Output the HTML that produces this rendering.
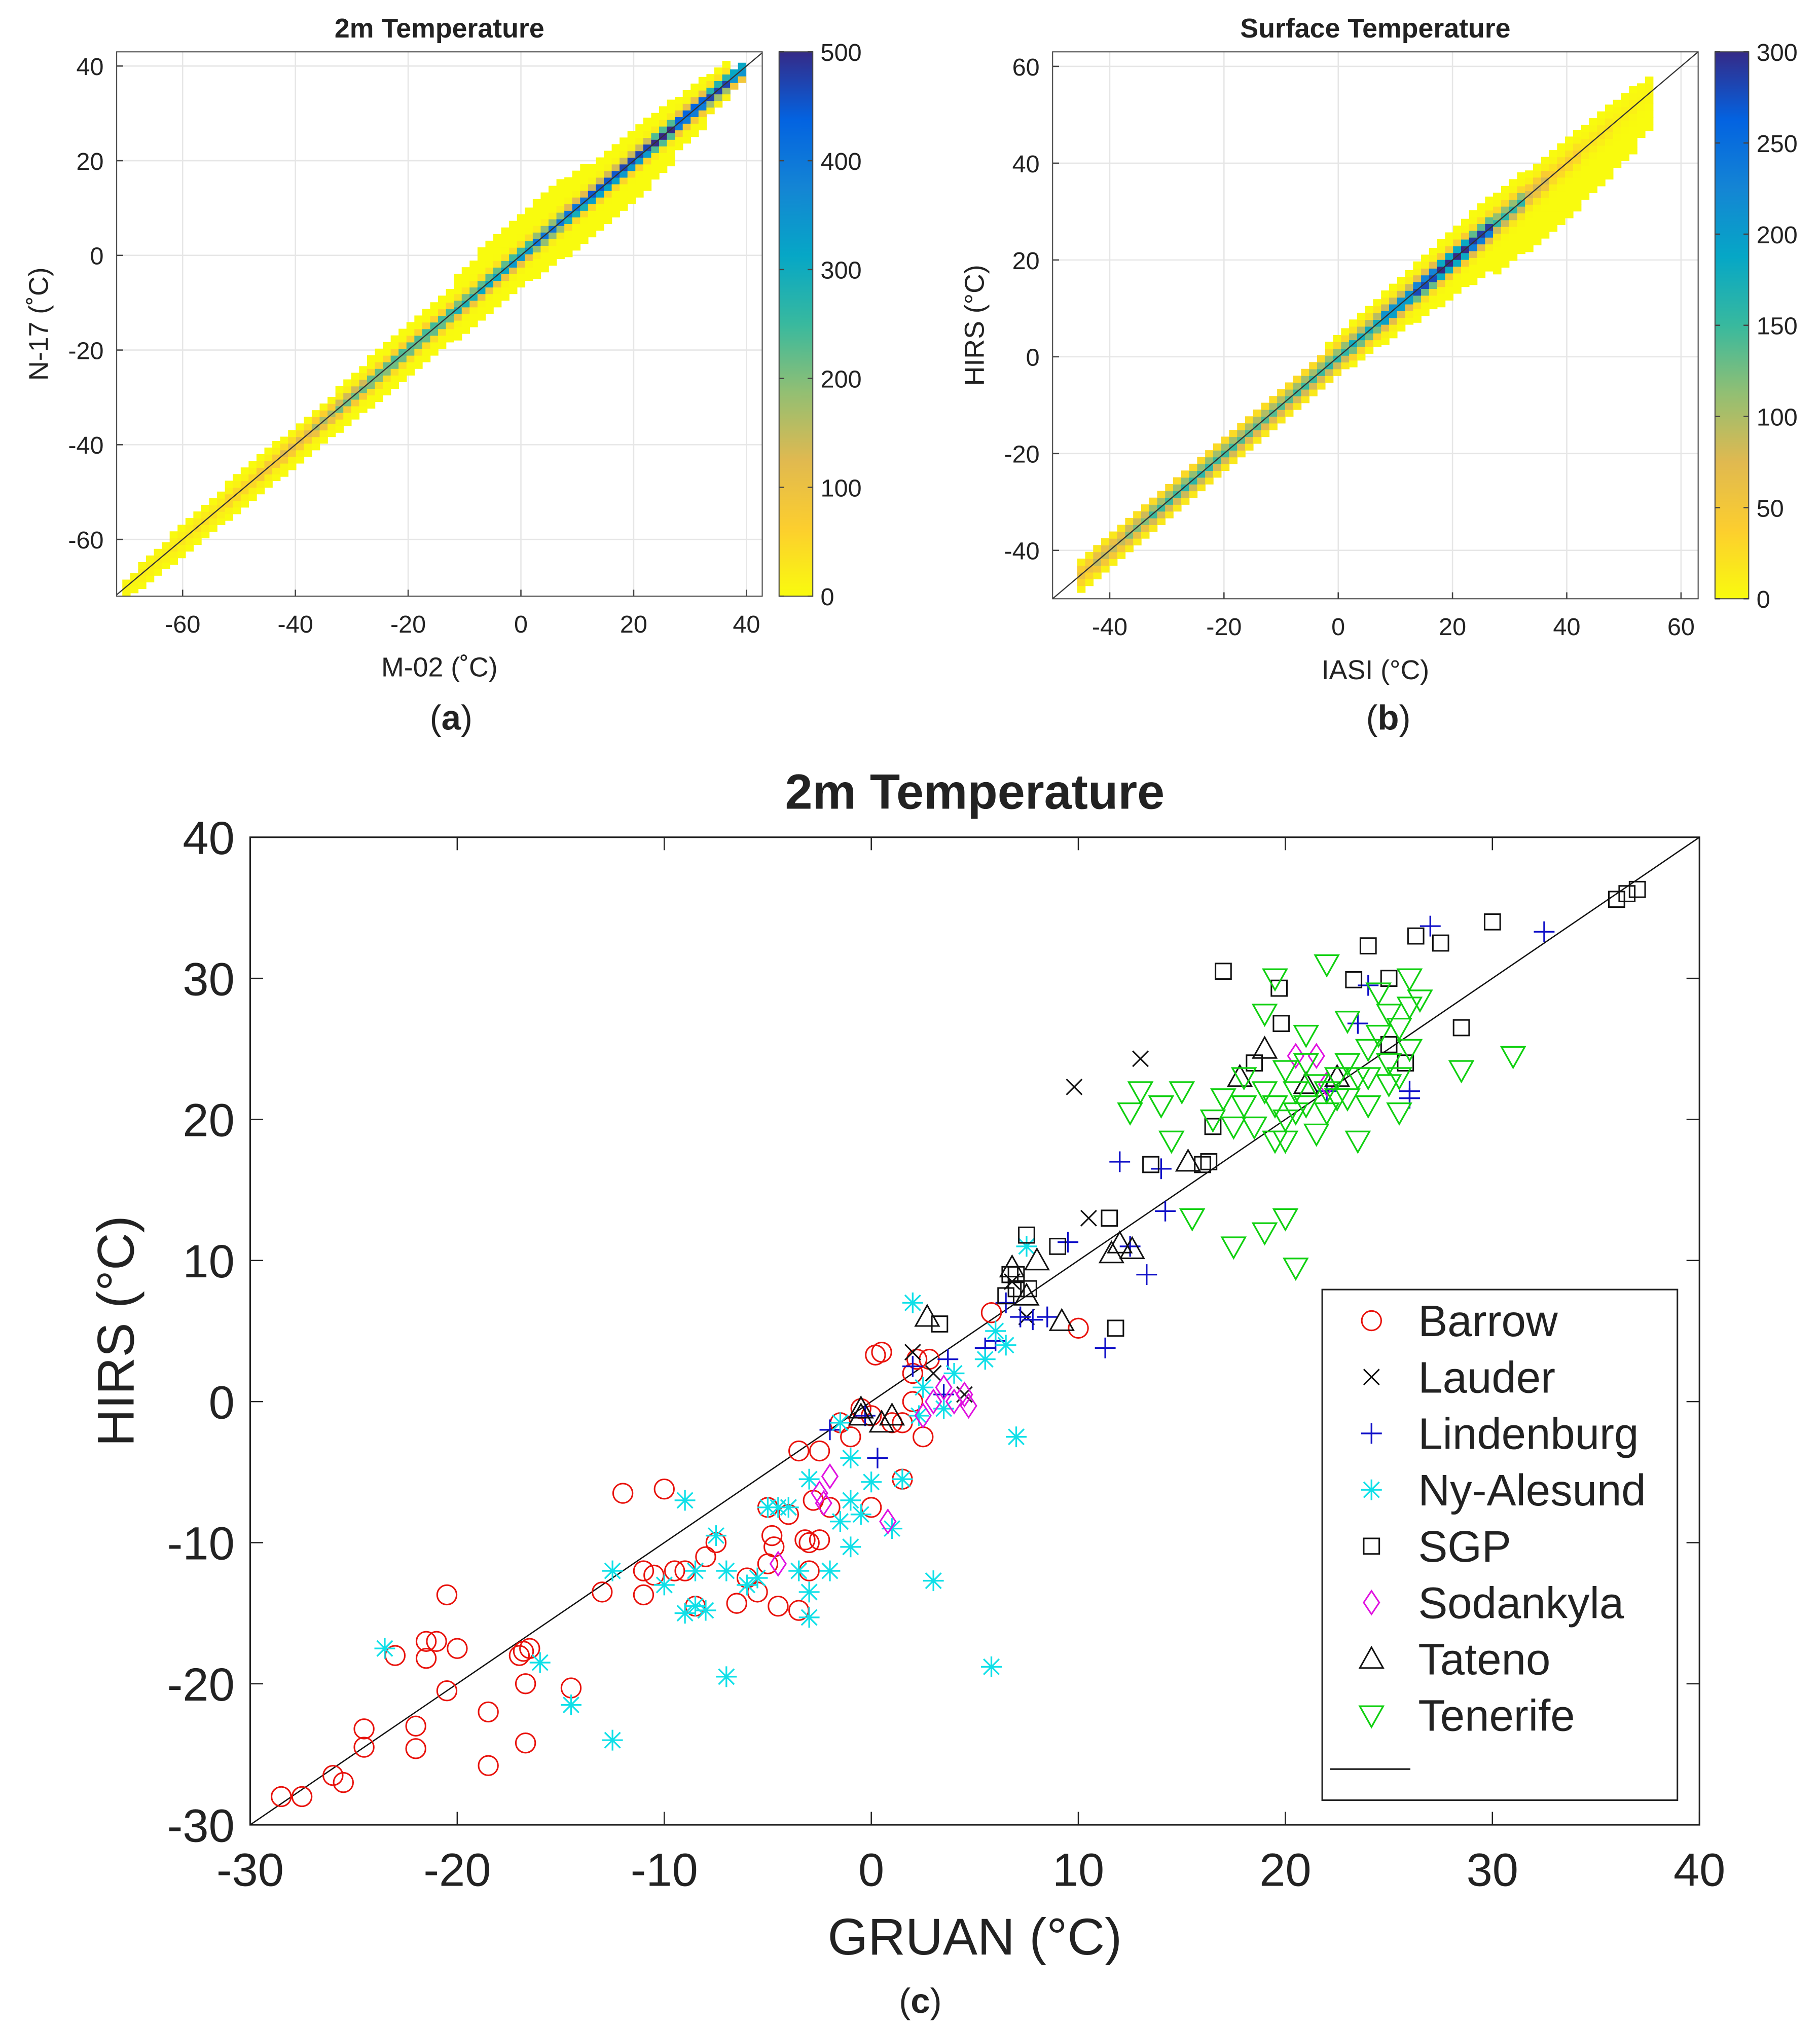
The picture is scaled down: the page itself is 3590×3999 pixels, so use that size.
<!DOCTYPE html>
<html><head><meta charset="utf-8"><style>
html,body{margin:0;padding:0;background:#fff}
svg{display:block}
text{font-family:"Liberation Sans",sans-serif;fill:#222}
</style></head><body>
<svg id="fig" width="3590" height="3999" viewBox="0 0 1404 1564" preserveAspectRatio="none" xmlns="http://www.w3.org/2000/svg">
<defs>
<linearGradient id="parula" x1="0" y1="1" x2="0" y2="0">
<stop offset="0" stop-color="#f9fb0e"/><stop offset="0.125" stop-color="#fcce2e"/><stop offset="0.25" stop-color="#e0b950"/>
<stop offset="0.375" stop-color="#92bf73"/><stop offset="0.5" stop-color="#38b99e"/><stop offset="0.625" stop-color="#06a7c6"/>
<stop offset="0.75" stop-color="#1485d4"/><stop offset="0.875" stop-color="#0363e1"/><stop offset="1" stop-color="#352a87"/>
</linearGradient>
<clipPath id="clipA"><rect x="90" y="40" width="498" height="420"/></clipPath>
<clipPath id="clipB"><rect x="812" y="40" width="498" height="422"/></clipPath>
</defs>
<g id="pa"></g>
<g id="pb"></g>
<g id="pc"></g>
</svg>
<script>
// ---------- data: panel a ----------
const aKnots = [-70,-65,-60,-55,-50,-45,-40,-35,-30,-25,-20,-15,-10,-5,0,5,10,15,20,25,30,35,40];
const aPeak  = [10,20,30,40,60,90,120,170,220,250,270,280,300,330,360,400,430,480,500,500,500,480,400];
const aUp    = [2,2.5,3,3,3.5,3.5,4,4,4.5,5,5,6,7,8,9,9,8,7,7,6,5,4,2];
const aLow   = [2,2.5,3,3,3.5,3.5,4,4,4.5,5,5,5,6,6,6,7,8,8,8,7,5,3,2];
const aTicksX = [-60,-40,-20,0,20,40];
const aTicksY = [-60,-40,-20,0,20,40];
const aCbTicks = [0,100,200,300,400,500];
// ---------- data: panel b ----------
const bKnots = [-45,-40,-35,-30,-25,-20,-15,-10,-5,0,5,10,15,20,25,30,35,40,45,50,55];
const bPeak  = [60,90,120,150,160,150,140,140,150,160,180,230,290,300,300,160,80,40,20,10,5];
const bUp    = [3,3,3,3,3,3,3,3,3,4,5,6,6,6,6,6,5,5,5,4,3];
const bLow   = [3,3,3,3,3,3,3,3,3,3,4,5,6,7,8,10,11,11,10,9,7];
const bTicksX = [-40,-20,0,20,40,60];
const bTicksY = [-40,-20,0,20,40,60];
const bCbTicks = [0,50,100,150,200,250,300];
// ---------- data: panel c ----------
const cTicksX = [-30,-20,-10,0,10,20,30,40];
const cTicksY = [-30,-20,-10,0,10,20,30,40];
const stations = ["Barrow","Lauder","Lindenburg","Ny-Alesund","SGP","Sodankyla","Tateno","Tenerife"];
const barrow = [[-28.5,-28],[-27.5,-28],[-26,-26.5],[-25.5,-27],[-24.5,-24.5],[-24.5,-23.2],[-23,-18],[-22,-23],[-22,-24.6],[-21.5,-17],[-21.5,-18.2],[-21,-17],[-20.5,-13.7],[-20.5,-20.5],[-20,-17.5],[-18.5,-22],[-18.5,-25.8],[-17,-18],[-16.8,-17.7],[-16.7,-20],[-16.5,-17.5],[-16.7,-24.2],[-14.5,-20.3],[-13,-13.5],[-12,-6.5],[-11,-12],[-11,-13.7],[-10.5,-12.3],[-10,-6.2],[-9.5,-12],[-9,-12],[-8.5,-14.5],[-8,-11],[-7.5,-10],[-6.5,-14.3],[-6,-12.5],[-5.5,-13.5],[-5,-11.5],[-4.8,-9.5],[-4.7,-10.3],[-4.5,-14.5],[-4,-8],[-3.5,-14.8],[-3.5,-3.5],[-3,-10],[-3,-12],[-2.8,-7],[-2.5,-9.8],[-2.5,-3.5],[-2,-7.5],[-1.5,-1.5],[-1,-2.5],[-0.5,-0.5],[0,-7.5],[0,-1],[0.2,3.3],[0.5,3.5],[1,-1.5],[1.5,-5.5],[1.5,-1.5],[2,2],[2,0],[2.2,3],[2.5,-2.5],[2.8,3],[5.8,6.3],[10,5.2],[-5,-7.5],[-3.2,-9.8]];
const lauder = [[2,3.5],[3,2],[4.5,0.5],[6.8,8.5],[7.5,6],[9.8,22.3],[10.5,13],[13,24.3],[-4,-7.5]];
const lindenburg = [[-2,-2],[0.3,-4],[2,2.5],[3.7,3],[5.5,3.8],[6,4.3],[6.5,7],[7.2,6],[7.8,5.8],[8.5,6],[9.5,11.3],[11.3,3.8],[12,17],[12.5,11],[13.3,9],[14,16.5],[14.2,13.5],[22,22],[23.5,26.8],[24,29.5],[26,21.5],[26,22],[27,33.7],[32.5,33.3],[-0.3,-1],[3.5,0.5]];
const nyalesund = [[-23.5,-17.5],[-16,-18.5],[-14.5,-21.5],[-12.5,-24],[-12.5,-12],[-10,-13],[-9,-7],[-9,-15],[-8.5,-14.5],[-8.5,-12],[-8,-14.8],[-7.5,-9.5],[-7,-19.5],[-7,-12],[-6,-13],[-5.5,-12.5],[-5,-7.5],[-4.5,-7.5],[-4,-7.5],[-3.5,-12],[-3,-13.5],[-3,-5.5],[-3,-15.3],[-2,-12],[-1.5,-8.5],[-1,-7],[-1,-10.3],[-1,-4],[-0.5,-8],[0,-5.7],[1,-9],[1.5,-5.5],[2,7],[2.3,-1],[2.5,1],[3,-12.7],[3.5,-0.5],[4,2],[5.5,3],[6,5],[6.5,4],[7,-2.5],[7.5,11],[5.8,-18.8],[-1.5,-1.5]];
const sgp = [[3.3,5.5],[6.5,7.5],[6.7,9],[7,8],[7,9],[7.5,11.8],[7.6,8],[9,11],[11.5,13],[11.8,5.2],[13.5,16.8],[16,16.8],[16.5,19.5],[17,30.5],[18.5,24],[19.7,29.3],[19.8,26.8],[23.3,29.9],[24,32.3],[25,30],[25,25.3],[25.8,24],[26.3,33],[27.5,32.5],[28.5,26.5],[30,34],[36,35.6],[36.5,36],[37,36.3],[16.3,17]];
const sodankyla = [[-4.5,-11.5],[-2.3,-7.2],[-2,-5.3],[0.8,-8.5],[2.5,-1],[3,0],[3.5,1],[4,0],[4.5,0.5],[4.7,-0.3],[20.5,24.5],[21.5,24.5],[22,22.5],[-2.5,-6.5]];
const tateno = [[-0.5,-0.5],[0.5,-1.5],[1,-1],[2.7,6],[6.8,9.5],[7.5,7.5],[8,10],[9.2,5.7],[11.6,10.5],[12,11.2],[12.6,10.8],[15.3,17],[17.8,23],[19,25],[21,22.5],[22.5,23],[-0.5,-1]];
const tenerife = [[12.5,20.5],[13,22],[14,21],[14.5,18.5],[15,22],[15.5,13],[17,21.5],[17.5,11],[17.5,19.5],[18,23],[18.5,19.5],[19,27.5],[19,12],[19.5,30],[19.5,21],[20,20],[20,18.5],[20,13],[20.5,9.5],[20.5,22],[21,24],[21,21],[21.5,19],[22,31],[22,22],[22.5,23],[23,21.5],[23,24],[23.5,18.5],[23.5,23],[24,25],[24,21],[24.5,29],[25,27.5],[25,24],[25,22.5],[25.5,23],[25.5,26.5],[26,28],[26,30],[26.5,28.5],[28.5,23.5],[31,24.5],[20,23.5],[21,26],[22,20.5],[19,22],[18,21],[16.5,20],[23,27],[24.5,26],[26,25],[22.5,21.5],[21.5,22.5],[20.5,20.5],[19.5,18.5],[24,23],[25.5,20.5]];

const NS="http://www.w3.org/2000/svg";
function mk(parent,tag,attrs,txt){const e=document.createElementNS(NS,tag);for(const k in attrs)e.setAttribute(k,attrs[k]);if(txt!==undefined)e.textContent=txt;parent.appendChild(e);return e;}
const stopsC=[[0,[249,251,14]],[0.125,[252,206,46]],[0.25,[224,185,80]],[0.375,[146,191,115]],[0.5,[56,185,158]],[0.625,[6,167,198]],[0.75,[20,133,212]],[0.875,[3,99,225]],[1,[53,42,135]]];
function cmap(t){t=Math.max(0,Math.min(1,t));for(let i=1;i<stopsC.length;i++){if(t<=stopsC[i][0]){const a=stopsC[i-1],b=stopsC[i];const f=(t-a[0])/(b[0]-a[0]);const c=a[1].map((v,j)=>Math.round(v+(b[1][j]-v)*f));return `rgb(${c[0]},${c[1]},${c[2]})`;}}return "rgb(53,42,135)";}

function heatPanel(gid,P,knots,peak,up,low,vmax,ticksX,ticksY,cbTicks,title,xlab,ylab,clip,letter){
  const g=document.getElementById(gid);
  const sx=v=>P.x0+(v-P.xmin)/(P.xmax-P.xmin)*(P.x1-P.x0);
  const sy=v=>P.y1-(v-P.ymin)/(P.ymax-P.ymin)*(P.y1-P.y0);
  mk(g,"rect",{x:P.x0,y:P.y0,width:P.x1-P.x0,height:P.y1-P.y0,fill:"#fff"});
  ticksX.forEach(t=>{const l=mk(g,"line",{x1:sx(t),x2:sx(t),y1:P.y0,y2:P.y1,stroke:"#e6e6e6","stroke-width":1});});
  ticksY.forEach(t=>{const l=mk(g,"line",{x1:P.x0,x2:P.x1,y1:sy(t),y2:sy(t),stroke:"#e6e6e6","stroke-width":1});});
  const hg=mk(g,"g",{"clip-path":`url(#${clip})`});
  
  
  const step=1.4, cw=(P.x1-P.x0)/(P.xmax-P.xmin)*step, ch=(P.y1-P.y0)/(P.ymax-P.ymin)*step;
  for(let x=knots[0];x<=knots[knots.length-1];x+=step){
    let k=0,best=1e9;knots.forEach((kv,i)=>{if(Math.abs(kv-x)<best){best=Math.abs(kv-x);k=i;}});
    for(let d=-low[k];d<=up[k];d+=step){
      const v=peak[k]*Math.exp(-(d/P.sig)*(d/P.sig));
      const r=mk(hg,"rect",{x:sx(x)-cw/2,y:sy(x+d)-ch/2,width:cw+0.3,height:ch+0.3,fill:cmap(v/vmax)});
      
      
    }
  }
  const lo=Math.max(P.xmin,P.ymin),hi=Math.min(P.xmax,P.ymax);
  const dl=mk(g,"line",{x1:sx(lo),y1:sy(lo),x2:sx(hi),y2:sy(hi),stroke:"#333","stroke-width":0.9});
  
  mk(g,"rect",{x:P.x0,y:P.y0,width:P.x1-P.x0,height:P.y1-P.y0,fill:"none",stroke:"#444","stroke-width":0.8});
  ticksX.forEach(t=>{const e=mk(g,"text",{x:sx(t),y:P.y1+28,"font-size":19,"text-anchor":"middle"},String(t));
    mk(g,"line",{x1:sx(t),x2:sx(t),y1:P.y1,y2:P.y1-5,stroke:"#444"});});
  ticksY.forEach(t=>{const e=mk(g,"text",{x:P.x0-10,y:sy(t)+7,"font-size":19,"text-anchor":"end"},String(t));
    mk(g,"line",{x1:P.x0,x2:P.x0+5,y1:sy(t),y2:sy(t),stroke:"#444"});});
  let e=mk(g,"text",{x:(P.x0+P.x1)/2,y:29,"font-size":21,"font-weight":"bold","text-anchor":"middle",fill:"#000"},title);
  e=mk(g,"text",{x:(P.x0+P.x1)/2,y:P.y1+62,"font-size":21,"text-anchor":"middle"},xlab);
  e=mk(g,"text",{x:0,y:0,"font-size":21,"text-anchor":"middle",transform:`translate(${P.x0-53},${(P.y0+P.y1)/2}) rotate(-90)`},ylab);
  const cb=mk(g,"rect",{x:P.cbx,y:P.y0,width:26,height:P.y1-P.y0,fill:"url(#parula)",stroke:"#444","stroke-width":0.8});
  
  const cmax=cbTicks[cbTicks.length-1];
  cbTicks.forEach(t=>{const y=P.y1-t/cmax*(P.y1-P.y0);
    const e=mk(g,"text",{x:P.cbx+32,y:y+7,"font-size":19},String(t));
    mk(g,"line",{x1:P.cbx,x2:P.cbx+4,y1:y,y2:y,stroke:"#444"});mk(g,"line",{x1:P.cbx+22,x2:P.cbx+26,y1:y,y2:y,stroke:"#444"});});
  e=mk(g,"text",{x:letter,y:563,"font-size":27,"text-anchor":"middle","font-family":"Liberation Serif",fill:"#000"},"");
  e.innerHTML='(<tspan font-weight="bold">'+P.lt+'</tspan>)';
  
}
heatPanel("pa",{x0:90,x1:588,y0:40,y1:460,xmin:-71.7,xmax:42.8,ymin:-72,ymax:43,cbx:601,lt:"a",sig:1.6},aKnots,aPeak,aUp,aLow,500,aTicksX,aTicksY,aCbTicks,"2m Temperature","M-02 (\u02daC)","N-17 (\u02daC)","clipA",348);
heatPanel("pb",{x0:812,x1:1310,y0:40,y1:462,xmin:-50,xmax:63,ymin:-50,ymax:63,cbx:1323,lt:"b",sig:2.0},bKnots,bPeak,bUp,bLow,300,bTicksX,bTicksY,bCbTicks,"Surface Temperature","IASI (\u00b0C)","HIRS (\u00b0C)","clipB",1071);

// ---------- panel c ----------
(function(){
  const g=document.getElementById("pc");
  const X0=193,X1=1311,Y0=646,Y1=1408,xmin=-30,xmax=40,ymin=-30,ymax=40;
  const sx=v=>X0+(v-xmin)/(xmax-xmin)*(X1-X0);
  const sy=v=>Y1-(v-ymin)/(ymax-ymin)*(Y1-Y0);
  mk(g,"rect",{x:X0,y:Y0,width:X1-X0,height:Y1-Y0,fill:"#fff",stroke:"#222","stroke-width":1.2});
  cTicksX.forEach(t=>{mk(g,"line",{x1:sx(t),x2:sx(t),y1:Y1,y2:Y1-10,stroke:"#222"});mk(g,"line",{x1:sx(t),x2:sx(t),y1:Y0,y2:Y0+10,stroke:"#222"});
    const e=mk(g,"text",{x:sx(t),y:Y1+47,"font-size":36,"text-anchor":"middle"},String(t));});
  cTicksY.forEach(t=>{mk(g,"line",{x1:X0,x2:X0+10,y1:sy(t),y2:sy(t),stroke:"#222"});mk(g,"line",{x1:X1,x2:X1-10,y1:sy(t),y2:sy(t),stroke:"#222"});
    const e=mk(g,"text",{x:X0-12,y:sy(t)+13,"font-size":36,"text-anchor":"end"},String(t));});
  const dl=mk(g,"line",{x1:sx(-30),y1:sy(-30),x2:sx(40),y2:sy(40),stroke:"#111","stroke-width":1});
  
  let e=mk(g,"text",{x:752,y:624,"font-size":38,"font-weight":"bold","text-anchor":"middle",fill:"#000"},"2m Temperature");
  e=mk(g,"text",{x:752,y:1508,"font-size":40,"text-anchor":"middle"},"GRUAN (\u00b0C)");
  e=mk(g,"text",{x:0,y:0,"font-size":40,"text-anchor":"middle",transform:`translate(103,1027) rotate(-90)`},"HIRS (\u00b0C)");
  e=mk(g,"text",{x:710,y:1553,"font-size":27,"text-anchor":"middle","font-family":"Liberation Serif",fill:"#000"},"");e.innerHTML='(<tspan font-weight="bold">c</tspan>)';
  
  function marker(par,type,x,y,col){
    const r=7.5;
    if(type==="o")return mk(par,"circle",{cx:x,cy:y,r:r,fill:"none",stroke:col,"stroke-width":1.2});
    if(type==="x")return mk(par,"path",{d:`M${x-6},${y-6}L${x+6},${y+6}M${x-6},${y+6}L${x+6},${y-6}`,stroke:col,"stroke-width":1.2});
    if(type==="+")return mk(par,"path",{d:`M${x-8},${y}L${x+8},${y}M${x},${y-8}L${x},${y+8}`,stroke:col,"stroke-width":1.3});
    if(type==="*")return mk(par,"path",{d:`M${x-8},${y}L${x+8},${y}M${x},${y-8}L${x},${y+8}M${x-6},${y-6}L${x+6},${y+6}M${x-6},${y+6}L${x+6},${y-6}`,stroke:col,"stroke-width":1.3});
    if(type==="s")return mk(par,"rect",{x:x-6,y:y-6,width:12,height:12,fill:"none",stroke:col,"stroke-width":1.2});
    if(type==="d")return mk(par,"path",{d:`M${x},${y-9}L${x+6},${y}L${x},${y+9}L${x-6},${y}Z`,fill:"none",stroke:col,"stroke-width":1.2});
    if(type==="^")return mk(par,"path",{d:`M${x},${y-9}L${x+9},${y+7}L${x-9},${y+7}Z`,fill:"none",stroke:col,"stroke-width":1.2});
    if(type==="v")return mk(par,"path",{d:`M${x},${y+9}L${x+9},${y-7}L${x-9},${y-7}Z`,fill:"none",stroke:col,"stroke-width":1.3});
  }
  const series=[[barrow,"o","#e8120c"],[lauder,"x","#111"],[lindenburg,"+","#1010c8"],[nyalesund,"*","#10e0e8"],[sgp,"s","#111"],[sodankyla,"d","#e010e0"],[tateno,"^","#111"],[tenerife,"v","#10d010"]];
  series.forEach((s,i)=>{
    const sg=mk(g,"g",{});
    
    
    s[0].forEach(p=>{const m=marker(sg,s[1],sx(p[0]),sy(p[1]),s[2]);
      
      });
  });
  const lg=mk(g,"g",{});
  
  
  mk(lg,"rect",{x:1020,y:995,width:274,height:394,fill:"#fff",stroke:"#222","stroke-width":1.2});
  series.forEach((s,i)=>{const y=1019+i*43.5;
    const m=marker(lg,s[1],1058,y,s[2]);
    
    
    const t=mk(lg,"text",{x:1094,y:y+12,"font-size":34},stations[i]);
    
    });
  mk(lg,"line",{x1:1026,x2:1088,y1:1365,y2:1365,stroke:"#111","stroke-width":1.2});
})();
</script>
</body></html>
